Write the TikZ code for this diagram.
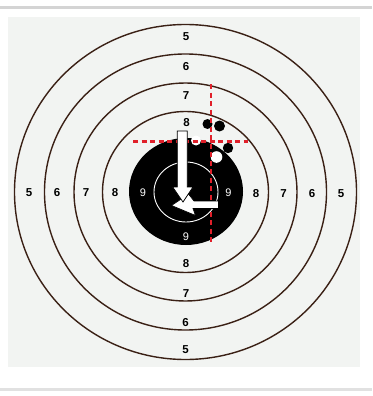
\documentclass[tikz,border=0pt]{standalone}
\usepackage{fontspec}
\setmainfont{Liberation Sans}
\definecolor{panelbg}{HTML}{F2F4F2}
\definecolor{ringcol}{HTML}{3A2015}
\definecolor{redline}{HTML}{E0202A}
\definecolor{barcol}{HTML}{D4D4D4}
\begin{document}
\begin{tikzpicture}[x=1pt,y=-1pt,
  ring/.style={draw=ringcol,line width=1.4pt},
  blab/.style={font=\fontsize{11.5}{12}\selectfont\bfseries,text=black,inner sep=0pt},
  wlab/.style={font=\fontsize{11}{12}\selectfont,text=white,inner sep=0pt},
  reddash/.style={draw=redline,line width=2.3pt,dash pattern=on 5pt off 3.5pt},
  bhole/.style={fill=black},
  whole/.style={fill=white},
  arrowshape/.style={fill=white,draw=black,line width=0.7pt,line join=miter}]
\useasboundingbox (0,0) rectangle (372,396);
% frame bars
\fill[barcol] (0,6.5) rectangle (372,9.3);
\fill[barcol!70] (0,388) rectangle (372,390.5);
% panel
\fill[panelbg] (8,17) rectangle (360,367);
% rings
\coordinate (c) at (185.5,192);
\draw[ring] (c) ellipse [x radius=171, y radius=167.5];
\draw[ring] (c) ellipse [x radius=141, y radius=138];
\draw[ring] (c) ellipse [x radius=111.5, y radius=109];
\draw[ring] (c) ellipse [x radius=83, y radius=80.5];
\fill[black] (186,191.5) ellipse [x radius=57, y radius=53.5];
\draw[white,line width=0.9pt] (186,192) ellipse [x radius=32, y radius=30];
% labels
\node[blab] (t5) at (186,37) {5};
\node[blab] (t6) at (186,67) {6};
\node[blab] (t7) at (186,95.5) {7};
\node[blab] (t8) at (186.5,123) {8};
\node[blab] (b8) at (186,264) {8};
\node[blab] (b7) at (186,294) {7};
\node[blab] (b6) at (185.5,323) {6};
\node[blab] (b5) at (185.5,349.5) {5};
\node[blab] (l5) at (29,193) {5};
\node[blab] (l6) at (57,193) {6};
\node[blab] (l7) at (86,193) {7};
\node[blab] (l8) at (115,193) {8};
\node[blab] (r8) at (256,194) {8};
\node[blab] (r7) at (283.5,194) {7};
\node[blab] (r6) at (312,194) {6};
\node[blab] (r5) at (341,194) {5};
\node[wlab] (l9) at (143,193) {9};
\node[wlab] (r9) at (228.5,193) {9};
\node[wlab] (b9) at (186,237) {9};
% bullet holes
\fill[bhole] (207.5,124) circle (5);
\fill[bhole] (219.5,126) circle (5.5);
\fill[bhole] (228,148) circle (5.2);
\fill[whole] (196,140.5) circle (5);
\fill[whole] (216.5,157) circle (5.8);
% red dashed cross
\draw[reddash] (211,84) -- (211,242);
\draw[reddash] (133,141.5) -- (248,141.5);
% arrows
\draw[arrowshape] (218.5,201) -- (194,201) -- (188.5,194) -- (171.5,205.5) -- (195.5,215.5) -- (193,208.5) -- (218.5,208.5) -- cycle;
\draw[arrowshape] (177.3,131) -- (187.3,131) -- (187.3,187) -- (193,187) -- (183,202) -- (172.7,187) -- (177.3,187) -- cycle;
\end{tikzpicture}
\end{document}
